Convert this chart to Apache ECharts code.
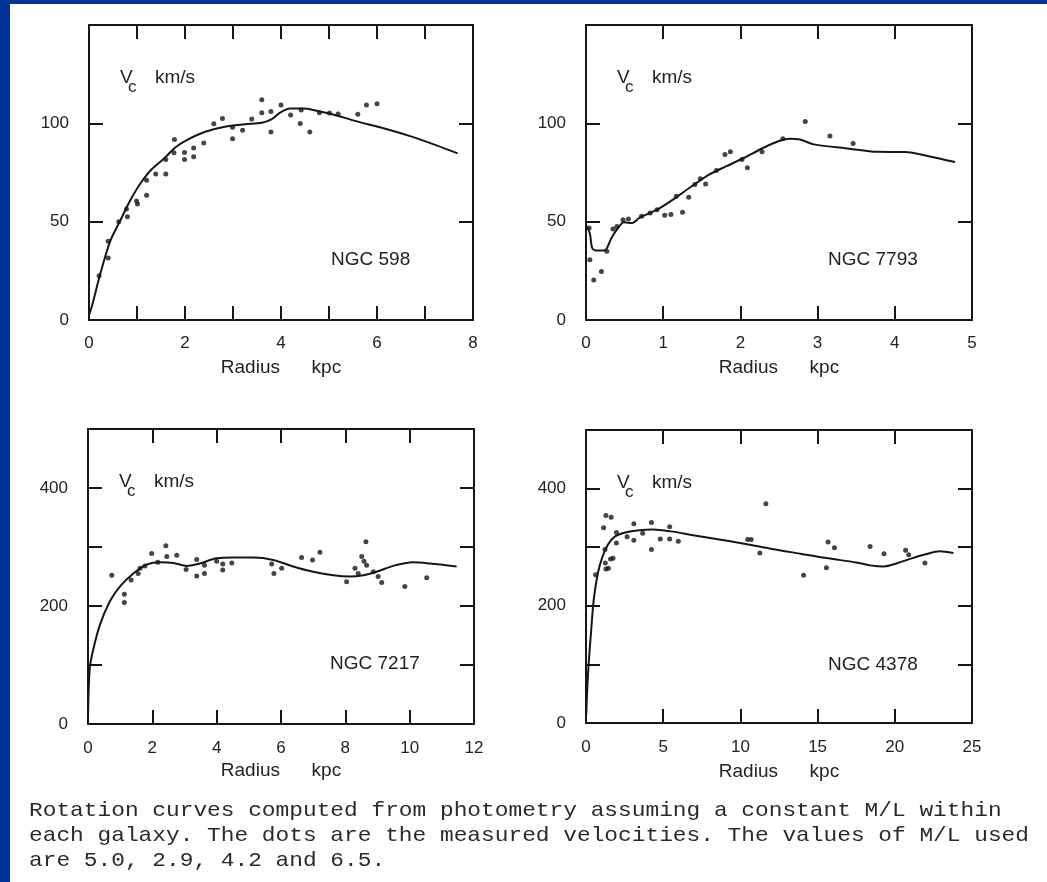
<!DOCTYPE html>
<html>
<head>
<meta charset="utf-8">
<script src="https://cdn.jsdelivr.net/npm/echarts@6/dist/echarts.min.js"></script>
<style>
html,body{margin:0;padding:0;background:#ffffff;}
#chart{width:1047px;height:882px;}
</style>
</head>
<body>
<div id="chart"></div>
<script>
// ---------------- DATA ----------------
const galaxyNames = ['NGC 598', 'NGC 7793', 'NGC 7217', 'NGC 4378'];
const xAxisTitle = 'Radius      kpc';
const yAxisUnit = 'km/s';
const captionLines = [
  'Rotation curves computed from photometry assuming a constant M/L within',
  'each galaxy. The dots are the measured velocities. The values of M/L used',
  'are 5.0, 2.9, 4.2 and 6.5.'
];

// NGC 598
const n598XTickLabels = [0, 2, 4, 6, 8];
const n598YTickLabels = [0, 50, 100];
const n598CurveR = [0, 0.06, 0.23, 0.44, 0.65, 0.85, 1.06, 1.3, 1.58, 1.79, 2.0, 2.42, 2.83, 3.25, 3.6, 3.8, 3.98, 4.19, 4.46, 4.67, 5.16, 5.58, 6.06, 6.69, 7.24, 7.68];
const n598CurveV = [2.5, 7, 23, 40, 50.5, 60.4, 69, 76.5, 82.5, 87.6, 91, 95.7, 98.3, 99.5, 100.3, 102, 105.4, 107.5, 107.5, 106.8, 104, 101, 98, 93.5, 88.8, 84.7];
const n598DotR = [0.21, 0.40, 0.40, 0.62, 0.78, 0.80, 0.99, 1.01, 1.2, 1.2, 1.39, 1.6, 1.6, 1.78, 1.77, 1.99, 1.99, 2.18, 2.18, 2.39, 2.6, 2.78, 2.99, 2.99, 3.2, 3.39, 3.6, 3.6, 3.79, 3.79, 4.0, 4.2, 4.4, 4.42, 4.6, 4.8, 5.01, 5.19, 5.6, 5.78, 6.0];
const n598DotV = [22.5, 31.5, 40, 50, 56.5, 52.5, 60.5, 59, 63.4, 71, 74.3, 74.3, 81.6, 91.8, 85, 85.2, 81.6, 87.4, 83, 90, 99.8, 102.5, 98, 92.2, 96.5, 102.2, 112, 105.4, 106, 95.6, 109.3, 104.2, 99.9, 106.8, 95.6, 105.4, 105.2, 104.8, 104.6, 109.3, 110];

// NGC 7793
const n7793XTickLabels = [0, 1, 2, 3, 4, 5];
const n7793YTickLabels = [0, 50, 100];
const n7793CurveR = [0.01, 0.05, 0.08, 0.13, 0.24, 0.33, 0.40, 0.49, 0.6, 0.69, 0.92, 1.14, 1.37, 1.6, 1.82, 2.05, 2.28, 2.5, 2.64, 2.77, 2.95, 3.41, 3.77, 4.13, 4.44, 4.78];
const n7793CurveV = [47.6, 44, 36.6, 35.4, 35.4, 41.7, 45.9, 49.7, 49.3, 51.9, 56.1, 61.6, 68, 74, 78.2, 82.5, 87.2, 91, 92.2, 91.8, 89.3, 87.1, 85.5, 85.4, 83.3, 80.3];
const n7793DotR = [0.04, 0.05, 0.10, 0.20, 0.27, 0.35, 0.40, 0.48, 0.55, 0.72, 0.83, 0.92, 1.02, 1.1, 1.17, 1.25, 1.33, 1.41, 1.48, 1.55, 1.69, 1.8, 1.87, 2.02, 2.09, 2.28, 2.55, 2.84, 3.16, 3.46];
const n7793DotV = [46.8, 30.6, 20.4, 24.7, 34.9, 46.3, 47.6, 51, 51.4, 52.7, 54.4, 56.1, 53.2, 53.6, 62.9, 54.8, 62.4, 68.9, 71.8, 69.2, 76, 84.2, 85.5, 81.6, 77.4, 85.5, 92.2, 100.9, 93.5, 89.8];

// NGC 7217
const n7217XTickLabels = [0, 2, 4, 6, 8, 10, 12];
const n7217YTickLabels = [0, 200, 400];
const n7217CurveR = [0, 0.02, 0.06, 0.17, 0.37, 0.68, 0.99, 1.41, 1.82, 2.24, 2.65, 3.07, 3.48, 4.0, 4.52, 5.14, 5.76, 6.38, 7.0, 7.63, 8.14, 8.56, 8.97, 9.49, 10.1, 10.63, 11.46];
const n7217CurveV = [10, 55, 97, 128, 168, 208, 233, 255, 270, 274, 273, 268, 272, 281, 282, 282, 278, 267, 258, 252, 250, 252, 258, 268, 274, 272, 267];
const n7217DotR = [0.74, 1.13, 1.13, 1.34, 1.56, 1.62, 1.77, 1.98, 2.17, 2.42, 2.45, 2.76, 3.05, 3.38, 3.38, 3.62, 3.62, 4.0, 4.19, 4.19, 4.47, 5.71, 5.78, 6.02, 6.64, 6.98, 7.21, 8.04, 8.3, 8.4, 8.51, 8.58, 8.64, 8.66, 8.87, 9.02, 9.13, 9.85, 10.53];
const n7217DotV = [252, 220, 206, 244, 255, 264, 268, 289, 274, 302, 284, 286, 262, 279, 251, 255, 269, 276, 261, 271, 273, 271, 255, 264, 282, 278, 291, 241, 264, 255, 284, 276, 309, 269, 258, 250, 240, 233, 248];

// NGC 4378
const n4378XTickLabels = [0, 5, 10, 15, 20, 25];
const n4378YTickLabels = [0, 200, 400];
const n4378CurveR = [0.02, 0.05, 0.16, 0.32, 0.5, 0.77, 1.07, 1.41, 1.86, 2.54, 3.45, 4.35, 5.49, 6.84, 8.43, 10.24, 12.05, 13.87, 15.68, 17.5, 18.4, 19.3, 20.2, 21.1, 22.0, 22.9, 23.8];
const n4378CurveV = [15, 40, 96, 153, 210, 256, 284, 304, 318, 325, 329, 330, 327, 321, 314, 306, 297, 289, 281, 274, 269, 267, 273, 281, 288, 293, 290];
const n4378DotR = [0.62, 1.14, 1.23, 1.29, 1.63, 1.25, 1.29, 1.45, 1.59, 1.75, 1.97, 1.97, 2.66, 3.1, 3.1, 3.67, 4.24, 4.24, 4.81, 5.42, 5.42, 5.98, 10.47, 10.7, 11.26, 11.65, 14.09, 15.57, 15.68, 16.09, 18.4, 19.3, 20.7, 20.9, 21.95];
const n4378DotV = [253, 333, 296, 354, 351, 273, 263, 264, 280, 281, 325, 307, 318, 340, 312, 324, 342, 296, 314, 335, 314, 310, 313, 313, 290, 374, 252, 265, 309, 299, 301, 289, 295, 287, 273];

// ---------------- LAYOUT ----------------
const panels = [
  {grid: {left: 89, top: 25, width: 384, height: 295}, xMax: 8, xInt: 1, yMax: 150, yInt: 50,
   xTicks: n598XTickLabels, yTicks: n598YTickLabels, cR: n598CurveR, cV: n598CurveV, dR: n598DotR, dV: n598DotV, labelMargin: 15, nameGap: 38},
  {grid: {left: 586, top: 25, width: 386, height: 295}, xMax: 5, xInt: 1, yMax: 150, yInt: 50,
   xTicks: n7793XTickLabels, yTicks: n7793YTickLabels, cR: n7793CurveR, cV: n7793CurveV, dR: n7793DotR, dV: n7793DotV, labelMargin: 15, nameGap: 38},
  {grid: {left: 88, top: 429, width: 386, height: 295}, xMax: 12, xInt: 2, yMax: 500, yInt: 100,
   xTicks: n7217XTickLabels, yTicks: n7217YTickLabels, cR: n7217CurveR, cV: n7217CurveV, dR: n7217DotR, dV: n7217DotV, labelMargin: 16, nameGap: 37},
  {grid: {left: 586, top: 430, width: 386, height: 293}, xMax: 25, xInt: 5, yMax: 500, yInt: 100,
   xTicks: n4378XTickLabels, yTicks: n4378YTickLabels, cR: n4378CurveR, cV: n4378CurveV, dR: n4378DotR, dV: n4378DotV, labelMargin: 16, nameGap: 39}
];

const INK = '#161616';
const LABEL = '#222222';
const SANS = '"Liberation Sans", Arial, sans-serif';

function zip(a, b) { return a.map((v, i) => [v, b[i]]); }

const grids = [], xAxes = [], yAxes = [], series = [], graphics = [];

// blue frame
graphics.push({type: 'rect', left: 0, top: 0, shape: {width: 10, height: 882}, style: {fill: '#003399'}, silent: true});
graphics.push({type: 'rect', left: 0, top: 0, shape: {width: 1047, height: 4}, style: {fill: '#003399'}, silent: true});

const lineCommon = {onZero: false, lineStyle: {color: INK, width: 2}};
const tickCommon = {inside: true, length: 14, lineStyle: {color: INK, width: 2}};

panels.forEach((p, i) => {
  grids.push(Object.assign({containLabel: false}, p.grid));
  xAxes.push({
    gridIndex: i, type: 'value', position: 'bottom', min: 0, max: p.xMax, interval: p.xInt,
    axisLine: lineCommon, axisTick: tickCommon, splitLine: {show: false},
    axisLabel: {fontFamily: SANS, fontSize: 17, color: LABEL, margin: p.labelMargin,
      formatter: v => (p.xTicks.indexOf(v) >= 0 ? String(v) : '')},
    name: xAxisTitle, nameLocation: 'middle', nameGap: p.nameGap,
    nameTextStyle: {fontFamily: SANS, fontSize: 19, color: LABEL}
  });
  xAxes.push({
    gridIndex: i, type: 'value', position: 'top', min: 0, max: p.xMax, interval: p.xInt,
    axisLine: lineCommon, axisTick: tickCommon, splitLine: {show: false}, axisLabel: {show: false}
  });
  yAxes.push({
    gridIndex: i, type: 'value', position: 'left', min: 0, max: p.yMax, interval: p.yInt,
    axisLine: lineCommon, axisTick: tickCommon, splitLine: {show: false},
    axisLabel: {fontFamily: SANS, fontSize: 17, color: LABEL, margin: 20,
      formatter: v => (p.yTicks.indexOf(v) >= 0 ? String(v) : '')}
  });
  yAxes.push({
    gridIndex: i, type: 'value', position: 'right', min: 0, max: p.yMax, interval: p.yInt,
    axisLine: lineCommon, axisTick: tickCommon, splitLine: {show: false}, axisLabel: {show: false}
  });

  series.push({
    type: 'line', xAxisIndex: 2 * i, yAxisIndex: 2 * i, data: zip(p.cR, p.cV),
    showSymbol: false, smooth: 0.3, lineStyle: {color: INK, width: 2}, silent: true, z: 3
  });
  series.push({
    type: 'scatter', xAxisIndex: 2 * i, yAxisIndex: 2 * i, data: zip(p.dR, p.dV),
    symbol: 'circle', symbolSize: 5, itemStyle: {color: INK}, silent: true, z: 4
  });

  const gl = p.grid.left, gt = p.grid.top;
  graphics.push({type: 'text', x: gl + 31, y: gt + 53, silent: true,
    style: {text: 'V', fontFamily: SANS, fontSize: 19, fill: LABEL, verticalAlign: 'middle'}});
  graphics.push({type: 'text', x: gl + 39, y: gt + 62, silent: true,
    style: {text: 'c', fontFamily: SANS, fontSize: 17, fill: LABEL, verticalAlign: 'middle'}});
  graphics.push({type: 'text', x: gl + 66, y: gt + 53, silent: true,
    style: {text: yAxisUnit, fontFamily: SANS, fontSize: 19, fill: LABEL, verticalAlign: 'middle'}});
  graphics.push({type: 'text', x: gl + 242, y: gt + 235, silent: true,
    style: {text: galaxyNames[i], fontFamily: SANS, fontSize: 19, fill: LABEL, verticalAlign: 'middle'}});
});

captionLines.forEach((t, k) => {
  graphics.push({type: 'text', x: 29, y: 810 + 25 * k, scaleX: 1.087, silent: true,
    style: {text: t, fontFamily: '"Liberation Mono", "DejaVu Sans Mono", monospace', fontSize: 21,
      fill: '#2a2a2a', verticalAlign: 'middle'}});
});

const chart = echarts.init(document.getElementById('chart'), null, {renderer: 'canvas'});
chart.setOption({
  animation: false,
  backgroundColor: '#ffffff',
  grid: grids,
  xAxis: xAxes,
  yAxis: yAxes,
  series: series,
  graphic: graphics
});
</script>
</body>
</html>
